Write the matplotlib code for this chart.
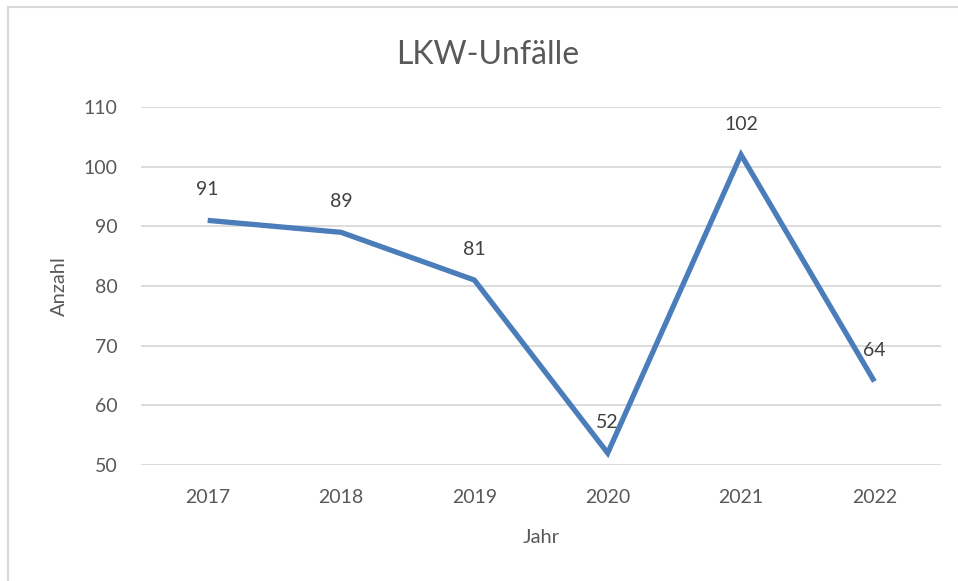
import matplotlib
matplotlib.use("Agg")
import matplotlib.pyplot as plt
from matplotlib.lines import Line2D

years = ["2017", "2018", "2019", "2020", "2021", "2022"]
values = [91, 89, 81, 52, 102, 64]
yticks = [50, 60, 70, 80, 90, 100, 110]

plt.rcParams['font.family'] = ['Lato', 'DejaVu Sans']
txt = '#595959'

fig = plt.figure(figsize=(9.58, 5.81), dpi=100)
ax = fig.add_axes([0.1472, 0.1997, 0.8351, 0.6161])

x = list(range(len(years)))
ax.plot(x, values, color='#4A7DBA', lw=3.8, solid_joinstyle='miter', solid_capstyle='butt', zorder=3)
for xi, v in zip(x, values):
    ax.annotate(str(v), (xi, v), xytext=(0, 16), textcoords='offset points',
                ha='center', va='bottom', fontsize=14, color='#404040')

ax.set_xlim(-0.5, len(years) - 0.5)
ax.set_ylim(50, 110)
ax.set_yticks(yticks)
ax.set_xticks(x)
ax.set_xticklabels(years)
ax.grid(axis='y', color='#D9D9D9', lw=1.3)
ax.set_axisbelow(True)
for s in ax.spines.values():
    s.set_visible(False)
ax.tick_params(axis='both', length=0, labelsize=14, labelcolor=txt)
ax.tick_params(axis='x', pad=17)
ax.tick_params(axis='y', pad=17)
ax.set_xlabel('Jahr', fontsize=14.5, color=txt, labelpad=17)
ax.set_ylabel('Anzahl', fontsize=14.5, color=txt, labelpad=11)
fig.text(488 / 958, 1 - 55 / 581, 'LKW-Unfälle', ha='center', va='center', fontsize=23, color=txt)

fig.add_artist(Line2D([8/958, 1], [1 - 7/581, 1 - 7/581], color='#D9D9D9', lw=1.5, transform=fig.transFigure))
fig.add_artist(Line2D([8/958, 8/958], [0, 1 - 7/581], color='#D9D9D9', lw=1.5, transform=fig.transFigure))

fig.savefig('out.png', dpi=100)
